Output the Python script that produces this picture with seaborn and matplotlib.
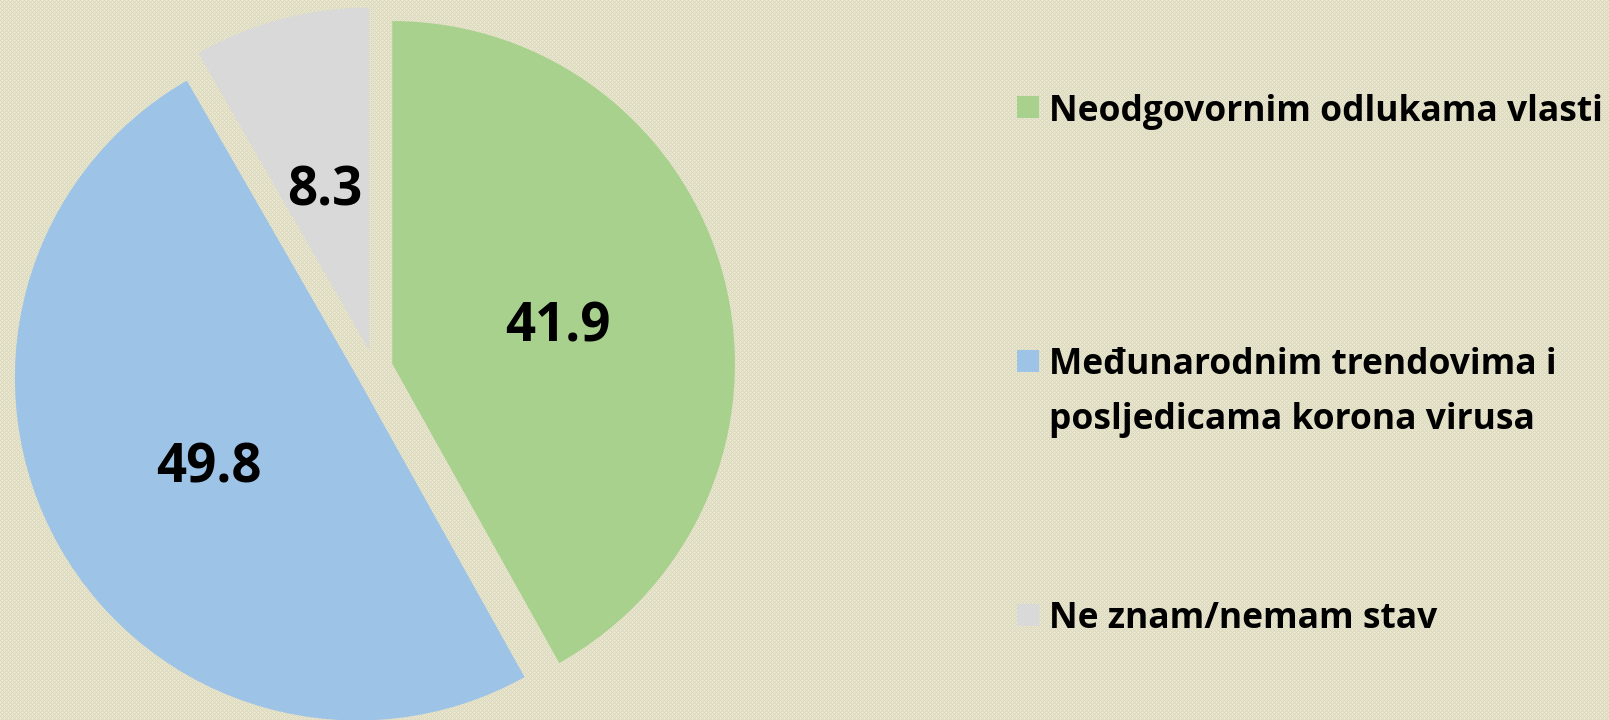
import numpy as np
import matplotlib
matplotlib.use("Agg")
import matplotlib.pyplot as plt
import seaborn as sns
from matplotlib.patches import Rectangle

categories = ["Neodgovornim odlukama vlasti",
              "Međunarodnim trendovima i\nposljedicama korona virusa",
              "Ne znam/nemam stav"]
values = [41.9, 49.8, 8.3]
colors = ["#A9D18E", "#9DC3E6", "#D9D9D9"]

sns.set_theme(style="white")
plt.rcParams['font.family'] = ['Open Sans', 'DejaVu Sans']

W, H = 1609, 720
fig = plt.figure(figsize=(W / 100, H / 100), dpi=100)
bg = "#E5E2CA"
fig.patch.set_facecolor(bg)

# subtle woven texture as a background image
yy, xx = np.mgrid[0:H, 0:W]
tex = (((xx + yy) % 4 == 0) | ((xx - yy) % 4 == 0)).astype(float)
base = np.array([0xE8, 0xE5, 0xCD]) / 255.0
dark = np.array([0xDA, 0xD7, 0xBE]) / 255.0
img = base[None, None, :] * (1 - tex[..., None]) + dark[None, None, :] * tex[..., None]
bax = fig.add_axes([0, 0, 1, 1], zorder=-5)
bax.imshow(img, extent=(0, W, 0, H), aspect="auto", interpolation="nearest")
bax.axis("off")

ax = fig.add_axes([0, 0, 1, 1], zorder=2)
ax.patch.set_alpha(0)

cx, cy, r = 374, H - 368.5, 342.7
gap = 0.055 * r
wedges, texts, autotexts = ax.pie(
    values, colors=colors, startangle=90, counterclock=False,
    explode=[gap] * 3, center=(cx, cy), radius=r,
    autopct="%.1f", pctdistance=0.5,
    textprops=dict(fontsize=38, fontweight="bold", color="black"),
    wedgeprops=dict(linewidth=0),
)
for t in autotexts:
    t.set_va("center_baseline")
ax.set_xlim(0, W)
ax.set_ylim(0, H)
ax.set_aspect("equal")
ax.axis("off")

# legend drawn manually to match the layout
sq = 22
legend_y = [107, 361, 615]  # pixel y of first text line (from top)
for col, lab, ly in zip(colors, categories, legend_y):
    ax.add_patch(Rectangle((1017, H - ly - sq / 2), sq, sq, facecolor=col,
                           edgecolor="none", zorder=3, clip_on=False))
    lines = lab.split("\n")
    for i, line in enumerate(lines):
        ax.text(1049, H - ly - 54 * i, line, fontsize=25.5, fontweight="bold",
                va="center_baseline", ha="left", color="black")

fig.savefig("out.png", dpi=100, facecolor=fig.get_facecolor())
